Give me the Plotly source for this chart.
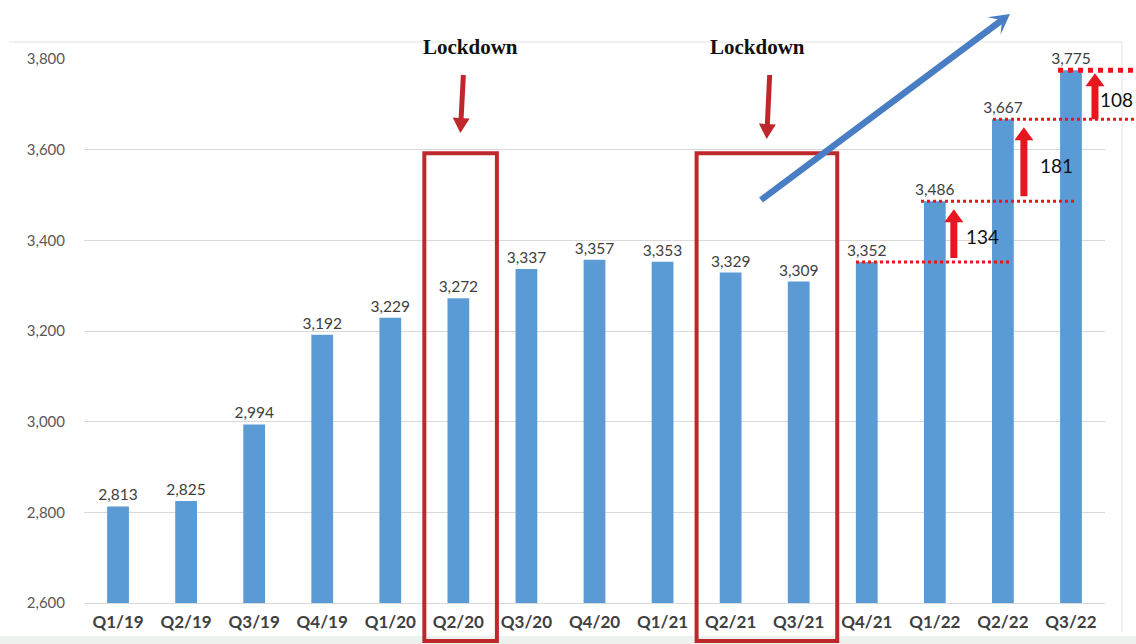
import math
import plotly.graph_objects as go

# ---------------- data ----------------
quarters = ["Q1/19", "Q2/19", "Q3/19", "Q4/19", "Q1/20", "Q2/20", "Q3/20", "Q4/20",
            "Q1/21", "Q2/21", "Q3/21", "Q4/21", "Q1/22", "Q2/22", "Q3/22"]
values = [2813, 2825, 2994, 3192, 3229, 3272, 3337, 3357, 3353, 3329, 3309, 3352, 3486, 3667, 3775]
y_ticks = [2600, 2800, 3000, 3200, 3400, 3600, 3800]
lockdown_groups = [[5], [9, 10]]          # category indices inside the red boxes
lockdown_label = "Lockdown"
step_indices = [11, 12, 13, 14]            # consecutive growth steps shown with arrows

# ---------------- geometry helpers ----------------
W, H = 1136, 644
ML, MR, MT, MB = 84, 31, 59, 41
PW, PH = W - ML - MR, H - MT - MB
Y0, Y1 = 2600, 3800
N = len(quarters)
BAND_PX = PW / N


def cx_px(i):          # category centre -> pixel x
    return ML + (i + 0.5) * BAND_PX


def v_py(v):           # value -> pixel y
    return MT + (Y1 - v) / (Y1 - Y0) * PH


def px2x(px):          # pixel -> paper x
    return (px - ML) / PW


def px2y(py):          # pixel -> paper y
    return (H - MB - py) / PH


def arrow_path(tail, tip, sw, hw, hl, notch=1.0):
    """Filled arrow polygon (pixel geometry) converted to a paper-coordinate SVG path."""
    (x0, y0), (x1, y1) = tail, tip
    L = math.hypot(x1 - x0, y1 - y0)
    ux, uy = (x1 - x0) / L, (y1 - y0) / L
    nx, ny = -uy, ux
    bx, by = x1 - ux * hl, y1 - uy * hl
    kx, ky = x1 - ux * hl * notch, y1 - uy * hl * notch
    pts = [
        (x0 + nx * sw / 2, y0 + ny * sw / 2),
        (kx + nx * sw / 2, ky + ny * sw / 2),
        (bx + nx * hw, by + ny * hw),
        (x1, y1),
        (bx - nx * hw, by - ny * hw),
        (kx - nx * sw / 2, ky - ny * sw / 2),
        (x0 - nx * sw / 2, y0 - ny * sw / 2),
    ]
    return "M " + " L ".join(f"{px2x(px):.5f},{px2y(py):.5f}" for px, py in pts) + " Z"


fig = go.Figure()
fig.add_trace(go.Bar(
    x=quarters, y=values,
    marker=dict(color="#5B9BD5", line=dict(width=0)),
    text=[f"{v:,}" for v in values], textposition="outside", constraintext="none",
    textfont=dict(family="Lato, Open Sans, sans-serif", size=15.5, color="#404040"),
    cliponaxis=False, hoverinfo="skip",
))

shapes = []
annotations = []

# outer light frame of the slide chart
shapes.append(dict(type="line", xref="paper", yref="paper", x0=px2x(9), x1=px2x(1122),
                   y0=px2y(42), y1=px2y(42), line=dict(color="#E3E3E3", width=1)))
shapes.append(dict(type="line", xref="paper", yref="paper", x0=px2x(1122), x1=px2x(1122),
                   y0=px2y(42), y1=px2y(632), line=dict(color="#E3E3E3", width=1)))
shapes.append(dict(type="rect", xref="paper", yref="paper", x0=px2x(0), x1=px2x(1136),
                   y0=px2y(644), y1=px2y(636), line=dict(width=0), fillcolor="#EEF2EE",
                   layer="below"))

# lockdown boxes, labels and arrows
box_red = "#C0272D"
label_shift = {0: 12, 1: -7}
for g, grp in enumerate(lockdown_groups):
    left = cx_px(grp[0]) - BAND_PX / 2
    right = cx_px(grp[-1]) + BAND_PX / 2 + 4.5
    shapes.append(dict(type="rect", xref="paper", yref="paper",
                       x0=px2x(left), x1=px2x(right), y0=px2y(641), y1=px2y(v_py(3592)),
                       line=dict(color=box_red, width=4), fillcolor="rgba(0,0,0,0)"))
    mid = (cx_px(grp[0]) + cx_px(grp[-1])) / 2
    annotations.append(dict(xref="paper", yref="paper", x=px2x(mid + label_shift[g]), y=px2y(47),
                            xanchor="center", yanchor="middle",
                            text=f"<b>{lockdown_label}</b>", showarrow=False,
                            font=dict(family="Liberation Serif, Times New Roman, serif",
                                      size=21, color="#111111")))
    tip_y = 133 if len(grp) == 1 else 139
    shapes.append(dict(type="path", xref="paper", yref="paper",
                       path=arrow_path((mid + 5, 75), (mid + 2, tip_y), 5, 8.5, 15),
                       fillcolor=box_red, line=dict(width=0)))

# blue trend arrow
shapes.append(dict(type="path", xref="paper", yref="paper",
                   path=arrow_path((761, 200), (1010, 14), 6.5, 11, 20, notch=0.65),
                   fillcolor="#4A7EC4", line=dict(width=0)))

# growth steps: dashed levels, red arrows and deltas
red = "#E8171F"
level_ranges = {11: (856, 1012), 12: (921, 1076), 13: (993, 1136), 14: (1058, 1136)}
for i in step_indices:
    a, b = level_ranges[i]
    shapes.append(dict(type="line", xref="paper", yref="paper", x0=px2x(a), x1=px2x(b),
                       y0=px2y(v_py(values[i])), y1=px2y(v_py(values[i])),
                       line=dict(color=red, width=3 if i < 14 else 5, dash="dot")))
arrow_dx = {12: 19, 13: 21, 14: 24}
label_dx = {12: 48, 13: 54, 14: 46}
tip_off = {12: 8, 13: 8, 14: 3}
tail_off = {12: -4, 13: -5, 14: 0}
for i in step_indices[1:]:
    delta = values[i] - values[i - 1]
    ax_px = cx_px(i) + arrow_dx[i]
    tip = v_py(values[i]) + tip_off[i]
    tail = v_py(values[i - 1]) + tail_off[i]
    shapes.append(dict(type="path", xref="paper", yref="paper",
                       path=arrow_path((ax_px, tail), (ax_px, tip), 7, 9.5, 13),
                       fillcolor=red, line=dict(width=0)))
    annotations.append(dict(xref="paper", yref="paper",
                            x=px2x(cx_px(i) + label_dx[i]),
                            y=px2y((v_py(values[i]) + v_py(values[i - 1])) / 2 + 5),
                            xanchor="center", yanchor="middle",
                            text=str(delta), showarrow=False,
                            font=dict(family="Lato, Open Sans, sans-serif", size=19, color="#111111")))

fig.update_layout(
    width=W, height=H, autosize=False,
    margin=dict(l=ML, r=MR, t=MT, b=MB, pad=0),
    paper_bgcolor="white", plot_bgcolor="white",
    bargap=0.68, showlegend=False,
    shapes=shapes, annotations=annotations,
    xaxis=dict(type="category", range=[-0.5, N - 0.5], showgrid=False, showline=True,
               linecolor="#D9D9D9", linewidth=1, ticks="", fixedrange=True,
               ticklabelstandoff=4,
               tickfont=dict(family="Lato, Open Sans, sans-serif", size=17, color="#404040",
                             weight="bold")),
    yaxis=dict(range=[Y0, Y1], tickvals=y_ticks, ticktext=[f"{v:,}" for v in y_ticks],
               showgrid=True, gridcolor="#D9D9D9", gridwidth=1, zeroline=False,
               showline=False, ticks="", ticklabelstandoff=18, fixedrange=True,
               tickfont=dict(family="Lato, Open Sans, sans-serif", size=15, color="#595959")),
)

fig.write_html("out.html")
